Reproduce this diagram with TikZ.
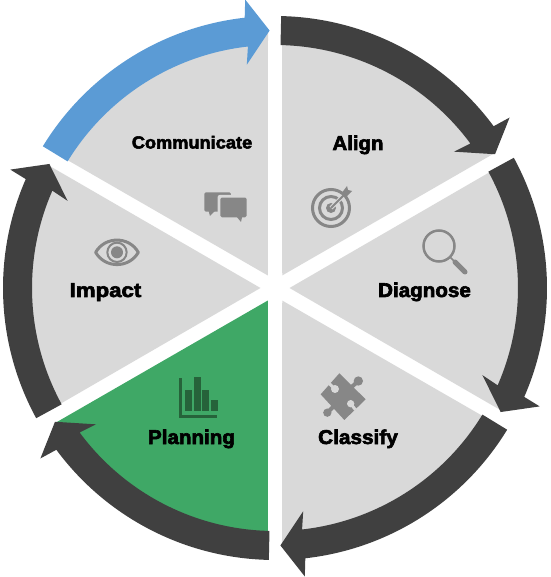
\documentclass[tikz,border=0pt]{standalone}
\usepackage{fontspec}
\newfontfamily\labfont[BoldFeatures={FakeBold=3}]{Liberation Sans}
\definecolor{sectorgrey}{HTML}{D9D9D9}
\definecolor{ringdark}{HTML}{404040}
\definecolor{ringblue}{HTML}{5B9BD5}
\definecolor{sectorgreen}{HTML}{3FA866}
\definecolor{icongrey}{HTML}{878787}
\definecolor{icongreen}{HTML}{26633A}
\tikzset{
  lab/.style={font=\labfont\bfseries\fontsize{20}{22}\selectfont,text=black,anchor=base,inner sep=0pt},
  labsmall/.style={font=\labfont\bfseries\fontsize{17.5}{20}\selectfont,text=black,anchor=base,inner sep=0pt},
  imagepx/.style={shift={(-275,288)},yscale=-1},
  zoomed/.style={shift={#1},scale=1/3}
}
\newcommand{\wedgeshape}[2]{%
  \pgfmathsetmacro{\wa}{#1-28.44}\pgfmathsetmacro{\wb}{#1+28.44}%
  \fill[#2] (#1:14.5) -- (\wa:257) arc[start angle=\wa,end angle=\wb,radius=257pt] -- cycle;}
\newcommand{\ringarrow}[2]{%
  \pgfmathsetmacro{\an}{#1-52.2}\pgfmathsetmacro{\at}{#1-57.4}%
  \pgfmathsetmacro{\ai}{\an+0.8}\pgfmathsetmacro{\ao}{\an-0.5}%
  \fill[#2] (#1:243) arc[start angle=#1,end angle=\an,radius=243pt]
    -- (\ai:225) -- (\at:257.5) -- (\ao:290) -- (\an:272)
    arc[start angle=\an,end angle=#1,radius=272pt] -- cycle;}
\begin{document}
\begin{tikzpicture}[x=1pt,y=1pt]
\useasboundingbox (-275,-289) rectangle (275,288);
% sectors
\wedgeshape{60}{sectorgrey}
\wedgeshape{0}{sectorgrey}
\wedgeshape{-60}{sectorgrey}
\wedgeshape{-120}{sectorgreen}
\wedgeshape{180}{sectorgrey}
\wedgeshape{120}{sectorgrey}
% ring arrows
\ringarrow{88.7}{ringdark}
\ringarrow{28.6}{ringdark}
\ringarrow{-31.4}{ringdark}
\ringarrow{-91.3}{ringdark}
\ringarrow{-151.4}{ringdark}
\ringarrow{148.6}{ringblue}
\begin{scope}[imagepx]
% target
\draw[icongrey,line width=3pt] (331,208) circle (18.5);
\draw[icongrey,line width=3pt] (331,208) circle (11.5);
\fill[icongrey] (331,208) circle (5);
\draw[sectorgrey,line width=4pt] (331,208) -- (346,193);
\draw[icongrey,line width=1.8pt] (331,208) -- (346,193);
\fill[icongrey] (341,194) -- (347,186) -- (348,190) -- (352,191) -- (345,198) -- cycle;
% magnifier
\draw[icongrey,line width=2.5pt] (439,246) circle (15.5);
\draw[icongrey,line width=1.6pt] (450,257) -- (455,262);
\draw[icongrey,line width=5pt,line cap=round] (455,262) -- (465,272);
% puzzle
\begin{scope}[zoomed={(310,365)}]
\fill[icongrey] (88,25) -- (167,103) -- (103,165) -- (32,88) -- cycle;
\fill[icongrey] (145,48) circle (14);
\fill[icongrey] (52,143) circle (12.5);
\draw[icongrey,line width=4pt] (145,48) -- (125,66);
\draw[icongrey,line width=4pt] (52,143) -- (70,125);
\fill[sectorgrey] (75,72) circle (12);
\draw[sectorgrey,line width=3pt] (75,72) -- (58,56);
\fill[sectorgrey] (122,116) circle (11);
\draw[sectorgrey,line width=3pt] (122,116) -- (136,134);
\end{scope}
% chat
\begin{scope}[zoomed={(80,180)}]
\fill[icongrey,rounded corners=1.5pt] (373,37) rectangle (453,95);
\fill[icongrey] (385,90) -- (390,108) -- (408,90) -- cycle;
\fill[sectorgrey,rounded corners=2pt] (413,45) rectangle (508,120);
\fill[icongrey,rounded corners=1.5pt] (421,53) rectangle (500,112);
\fill[icongrey] (468,108) -- (483,126) -- (487,108) -- cycle;
% eye
\draw[icongrey,line width=3pt,line join=round]
  (47,217) .. controls (75,168) and (147,168) .. (175,217)
  .. controls (147,266) and (75,266) .. cycle;
\draw[icongrey,line width=2pt] (111,217) circle (29);
\fill[icongrey] (111,217) circle (18);
\end{scope}
% chart
\begin{scope}[zoomed={(170,370)}]
\fill[icongreen] (26,24) rectangle (36,145);
\fill[icongreen] (26,135) rectangle (142,145);
\fill[icongreen] (45,60) rectangle (66,123);
\fill[icongreen] (72,21) rectangle (93,123);
\fill[icongreen] (96,60) rectangle (117,123);
\fill[icongreen] (123,90) rectangle (144,123);
\end{scope}
\end{scope}
% labels
\begin{scope}[imagepx]
\node[labsmall] (communicate) at (192,148.5) {\scalebox{1.04}[1]{Communicate}};
\node[lab] (align) at (358,150) {\scalebox{1.02}[1]{Align}};
\node[lab] (diagnose) at (424.5,297) {\scalebox{1.03}[1]{Diagnose}};
\node[lab] (classify) at (358,444) {\scalebox{1.04}[1]{Classify}};
\node[lab] (planning) at (191.5,444) {\scalebox{1.03}[1]{Planning}};
\node[lab] (impact) at (105.5,297) {\scalebox{1.11}[1]{Impact}};
\end{scope}
\end{tikzpicture}
\end{document}
